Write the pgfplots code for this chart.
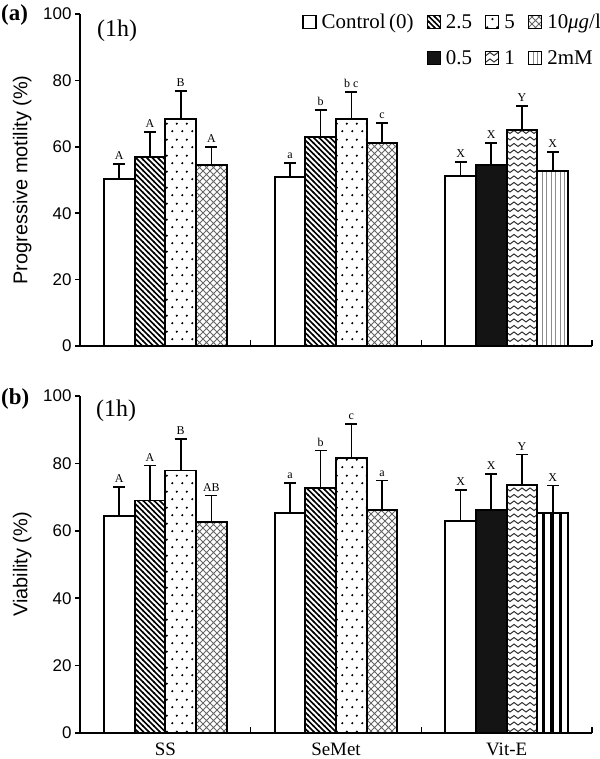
\documentclass[border=0pt]{standalone}
\usepackage{fontspec}
\setmainfont{Liberation Serif}
\setsansfont{Liberation Sans}
\usepackage{pgfplots}
\pgfplotsset{compat=1.18}
\usetikzlibrary{patterns}

\pgfdeclarepatternformonly{mydiag}{\pgfqpoint{-1bp}{-1bp}}{\pgfqpoint{7bp}{7bp}}{\pgfqpoint{5.5bp}{5.5bp}}{%
  \pgfsetlinewidth{1.5bp}%
  \pgfpathmoveto{\pgfqpoint{-0.5bp}{6bp}}\pgfpathlineto{\pgfqpoint{6bp}{-0.5bp}}%
  \pgfusepath{stroke}}
\pgfdeclarepatternformonly{mydots}{\pgfqpoint{0bp}{0bp}}{\pgfqpoint{10bp}{16bp}}{\pgfqpoint{10bp}{16bp}}{%
  \pgfpathcircle{\pgfqpoint{2.5bp}{4bp}}{1.3bp}%
  \pgfpathcircle{\pgfqpoint{7.5bp}{12bp}}{1.3bp}%
  \pgfusepath{fill}}
\pgfdeclarepatternformonly{mycross}{\pgfqpoint{-1bp}{-1bp}}{\pgfqpoint{8bp}{8bp}}{\pgfqpoint{7bp}{7bp}}{%
  \pgfsetlinewidth{0.8bp}%
  \pgfpathmoveto{\pgfqpoint{-0.2bp}{-0.2bp}}\pgfpathlineto{\pgfqpoint{7.2bp}{7.2bp}}%
  \pgfpathmoveto{\pgfqpoint{-0.2bp}{7.2bp}}\pgfpathlineto{\pgfqpoint{7.2bp}{-0.2bp}}%
  \pgfusepath{stroke}}
\pgfdeclarepatternformonly{mywave}{\pgfqpoint{-1bp}{-1bp}}{\pgfqpoint{9bp}{7bp}}{\pgfqpoint{8bp}{6.5bp}}{%
  \pgfsetlinewidth{1bp}%
  \pgfpathmoveto{\pgfqpoint{0bp}{3bp}}%
  \pgfpathcurveto{\pgfqpoint{1.3bp}{5bp}}{\pgfqpoint{2.7bp}{5bp}}{\pgfqpoint{4bp}{3bp}}%
  \pgfpathcurveto{\pgfqpoint{5.3bp}{1bp}}{\pgfqpoint{6.7bp}{1bp}}{\pgfqpoint{8bp}{3bp}}%
  \pgfusepath{stroke}}
\pgfdeclarepatternformonly{myvthin}{\pgfqpoint{0bp}{-1bp}}{\pgfqpoint{4.5bp}{2bp}}{\pgfqpoint{4.5bp}{1bp}}{%
  \pgfsetlinewidth{0.9bp}%
  \pgfpathmoveto{\pgfqpoint{2.25bp}{-0.5bp}}\pgfpathlineto{\pgfqpoint{2.25bp}{1.5bp}}%
  \pgfusepath{stroke}}
\pgfdeclarepatternformonly{myvthick}{\pgfqpoint{0bp}{-1bp}}{\pgfqpoint{8.3bp}{2bp}}{\pgfqpoint{8.3bp}{1bp}}{%
  \pgfsetlinewidth{3.3bp}%
  \pgfpathmoveto{\pgfqpoint{4.15bp}{-0.5bp}}\pgfpathlineto{\pgfqpoint{4.15bp}{1.5bp}}%
  \pgfusepath{stroke}}

\pgfplotsset{
  myaxis/.style={
    scale only axis, width=512bp,
    xmin=-0.5, xmax=2.5, ymin=0, ymax=100,
    axis lines*=left,
    axis line style={line width=1.8bp},
    every tick/.style={black, line width=1.5bp},
    tick align=outside,
    major tick length=5bp,
    minor tick length=-6bp,
    ytick={0,20,...,100},
    xtick={0,1,2},
    minor xtick={0.5,1.5,2.5},
    major x tick style={draw=none},
    /pgf/number format/assume math mode=true,
    yticklabel style={font=\sffamily\fontsize{17}{19}\selectfont},
    xticklabel style={font=\fontsize{19}{21}\selectfont, inner sep=1bp, yshift=-4bp},
    every axis y label/.style={at={(axis description cs:-0.113,0.5)}, anchor=center, rotate=90,
      font=\sffamily\fontsize{20}{22}\selectfont},
    clip=false,
  },
  legbox/.style={legend image code/.code={\draw[##1, line width=1.4bp] (0bp,-6.5bp) rectangle (13bp,6.5bp);}},
  mybar/.style={ybar, bar width=0.18, bar shift=0pt, draw=black, /tikz/line width=1.9bp, legbox,
    error bars/y dir=plus, error bars/y explicit,
    error bars/error bar style={line width=1.7bp, black, solid},
    error bars/error mark options={rotate=90, mark size=6bp, line width=1.7bp, black, solid}},
  lab/.style={draw=none, mark=none, forget plot, nodes near coords, point meta=explicit symbolic,
    every node near coord/.style={anchor=south, font=\fontsize{12}{14}\selectfont, inner sep=1bp, yshift=3bp, black}},
}

\begin{document}
\begin{tikzpicture}
\useasboundingbox (0,0) rectangle (600bp,-759bp);

% ---------- panel (a) ----------
\begin{axis}[myaxis, at={(80bp,-346bp)}, anchor=south west, height=332bp,
  xticklabels={},
  ylabel={Progressive motility (\%)},
  legend style={draw=none, fill=none, at={(axis description cs:1,1)}, anchor=north east,
    yshift=4bp, xshift=14bp, font=\fontsize{21}{23}\selectfont, row sep=16bp,
    /tikz/every even column/.append style={column sep=11bp},
    /tikz/every odd column/.append style={column sep=3bp}},
  legend columns=4, legend cell align=left]
\addplot[mybar, fill=white] coordinates {(-0.27,50.3) +- (0,4.5) (0.73,50.9) +- (0,4.3) (1.73,51.2) +- (0,4.2)};
\addlegendentry{Control\,(0)}
\addplot[mybar, pattern=mydiag] coordinates {(-0.09,56.9) +- (0,7.5) (0.91,63.0) +- (0,8.1)};
\addlegendentry{2.5}
\addplot[mybar, pattern=mydots] coordinates {(0.09,68.4) +- (0,8.4) (1.09,68.4) +- (0,8.1)};
\addlegendentry{5}
\addplot[mybar, pattern=mycross, pattern color=black!60] coordinates {(0.27,54.5) +- (0,5.4) (1.27,61.1) +- (0,6.1)};
\addlegendentry{10\textit{μg}/l}
\addlegendimage{empty legend}
\addlegendentry{}
\addplot[mybar, fill=black!92] coordinates {(1.91,54.5) +- (0,6.6)};
\addlegendentry{0.5}
\addplot[mybar, pattern=mywave, pattern color=black!80] coordinates {(2.09,65.1) +- (0,7.2)};
\addlegendentry{1}
\addplot[mybar, pattern=myvthin, pattern color=black!45] coordinates {(2.27,52.7) +- (0,5.7)};
\addlegendentry{2mM}
\addplot[lab] table[meta=l, row sep=\\, col sep=comma] {
x,y,l\\
-0.27,54.8,A\\ -0.09,64.4,A\\ 0.09,76.8,B\\ 0.27,59.9,A\\
0.73,55.2,a\\ 0.91,71.1,b\\ 1.09,76.5,b c\\ 1.27,67.2,c\\
1.73,55.4,X\\ 1.91,61.1,X\\ 2.09,72.3,Y\\ 2.27,58.4,X\\
};
\end{axis}
\node[anchor=west, font=\bfseries\fontsize{23}{25}\selectfont, inner sep=0pt] at (1bp,-15bp) {(a)};
\node[anchor=west, font=\fontsize{24}{26}\selectfont, inner sep=0pt] at (97bp,-31bp) {(1h)};

% ---------- panel (b) ----------
\begin{axis}[myaxis, at={(80bp,-733bp)}, anchor=south west, height=337bp,
  xticklabels={SS,SeMet,Vit-E},
  ylabel={Viability (\%)}]
\addplot[mybar, fill=white] coordinates {(-0.27,64.4) +- (0,8.7) (0.73,65.3) +- (0,8.8) (1.73,62.9) +- (0,9.3)};
\addplot[mybar, pattern=mydiag] coordinates {(-0.09,69.0) +- (0,10.4) (0.91,72.6) +- (0,11.2)};
\addplot[mybar, pattern=mydots] coordinates {(0.09,77.9) +- (0,9.4) (1.09,81.5) +- (0,10.1)};
\addplot[mybar, pattern=mycross, pattern color=black!60] coordinates {(0.27,62.7) +- (0,7.8) (1.27,66.3) +- (0,8.6)};
\addplot[mybar, fill=black!92] coordinates {(1.91,66.3) +- (0,10.5)};
\addplot[mybar, pattern=mywave, pattern color=black!80] coordinates {(2.09,73.5) +- (0,9.1)};
\addplot[mybar, pattern=myvthick] coordinates {(2.27,65.3) +- (0,8.1)};
\addplot[lab] table[meta=l, row sep=\\, col sep=comma] {
x,y,l\\
-0.27,73.1,A\\ -0.09,79.4,A\\ 0.09,87.3,B\\ 0.27,70.5,AB\\
0.73,74.1,a\\ 0.91,83.8,b\\ 1.09,91.6,c\\ 1.27,74.9,a\\
1.73,72.2,X\\ 1.91,76.8,X\\ 2.09,82.6,Y\\ 2.27,73.4,X\\
};
\end{axis}
\node[anchor=west, font=\bfseries\fontsize{23}{25}\selectfont, inner sep=0pt] at (1bp,-399bp) {(b)};
\node[anchor=west, font=\fontsize{24}{26}\selectfont, inner sep=0pt] at (96bp,-411bp) {(1h)};
\end{tikzpicture}
\end{document}
